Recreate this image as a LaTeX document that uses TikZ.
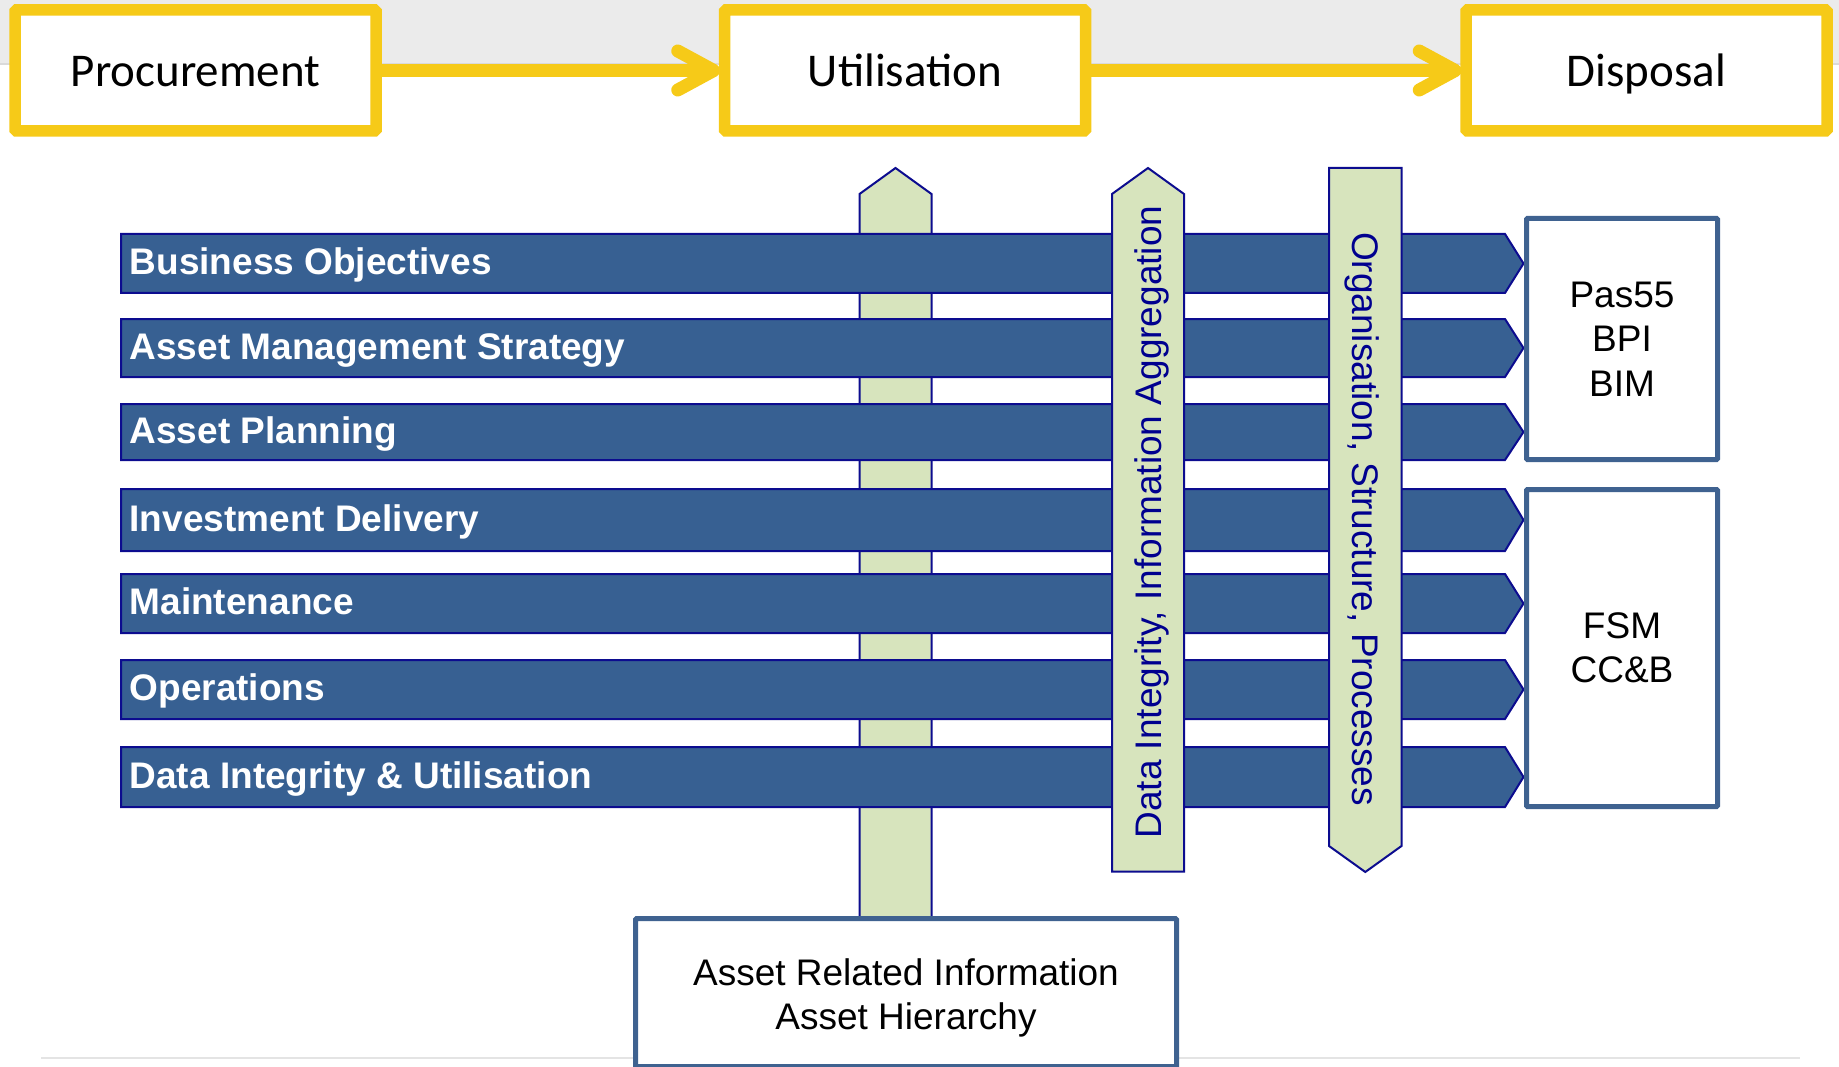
\documentclass[tikz,border=0pt]{standalone}
\usepackage{fontspec}
\setmainfont{Liberation Sans}
\newfontfamily\carlito{Carlito}
\definecolor{barblue}{HTML}{376092}
\definecolor{barline}{HTML}{0C0C8F}
\definecolor{barGreen}{HTML}{D7E4BD}
\definecolor{gtext}{HTML}{00008F}
\definecolor{boxline}{HTML}{3F6290}
\definecolor{ylw}{HTML}{F6CA18}
\definecolor{band}{HTML}{EBEBEB}
\definecolor{bandline}{HTML}{DADADA}
\definecolor{gline}{HTML}{E4E4E4}
\begin{document}
\begin{tikzpicture}[x=1pt,y=-1pt,
  bigfont/.style={font=\fontsize{37}{44.5}\selectfont},
  ybox/.style={draw=ylw, line width=11.5pt, fill=white, minimum width=361pt, minimum height=121pt,
    inner sep=0pt, font=\carlito\fontsize{47}{56}\selectfont, text height=33pt, text depth=0pt,
    rounded corners=1.5pt},
  yline/.style={draw=ylw, line width=12.5pt},
  ychev/.style={draw=ylw, line width=13pt, line cap=round, line join=round},
  bluebar/.style={fill=barblue, draw=barline, line width=2pt},
  greenbar/.style={fill=barGreen, draw=barline, line width=2pt},
  bartext/.style={text=white, font=\bfseries\fontsize{37}{44.5}\selectfont, inner sep=0pt, anchor=base west},
  vtext/.style={text=gtext, font=\fontsize{37}{44.5}\selectfont, inner sep=0pt, anchor=base},
  infobox/.style={draw=boxline, line width=5pt, fill=white, inner sep=0pt, align=center,
    font=\fontsize{37}{44.5}\selectfont, rounded corners=1pt}
]
\useasboundingbox (0,0) rectangle (1839,1067);
% background band and bottom rule
\fill[band] (0,0) rectangle (1839,64);
\draw[bandline, line width=1.2pt] (0,64) -- (1839,64);
\draw[gline, line width=1.5pt] (41,1058) -- (1800,1058);

% green bar behind the blue bars
\path[greenbar] (859.5,194) -- (895.5,168) -- (931.5,194) -- (931.5,930) -- (859.5,930) -- cycle;

% blue bars
\foreach \t/\b/\lab [count=\i] in {
  234/293/Business Objectives,
  319/377/Asset Management Strategy,
  404/460/Asset Planning,
  489/551/Investment Delivery,
  574/633/Maintenance,
  660/719/Operations,
  747/807/Data Integrity \& Utilisation}{
  \path[bluebar] (121,\t) -- (1505,\t) -- (1523.5,{(\t+\b)/2}) -- (1505,\b) -- (121,\b) -- cycle;
  \node[bartext] (bar\i) at (129.5,{(\t+\b)/2+11.3}) {\lab};
}

% green bars on top
\path[greenbar] (1112,194) -- (1148,168) -- (1184,194) -- (1184,871.5) -- (1112,871.5) -- cycle;
\node[vtext, rotate=90] (vdata) at (1161.5,522) {Data Integrity, Information Aggregation};
\path[greenbar] (1329,168) -- (1401.5,168) -- (1401.5,846) -- (1365.3,872) -- (1329,846) -- cycle;
\node[vtext, rotate=-90] (vorg) at (1352,519) {Organisation, Structure, Processes};

% information boxes
\node[infobox, minimum width=191pt, minimum height=241pt] (pas) at (1622,339) {Pas55\\BPI\\BIM};
\node[infobox, minimum width=191pt, minimum height=317pt] (fsm) at (1622,648) {FSM\\CC\&B};
\node[infobox, minimum width=541pt, minimum height=148pt] (ari) at (906,992.7) {};
\node[bigfont, align=center, inner sep=0pt] (aritext) at (906,998) {Asset Related Information\\Asset Hierarchy};

% life-cycle boxes
\node[ybox] (proc) at (195.5,70.5) {Procurement};
\node[ybox] (util) at (905,70.5) {Utilisation};
\node[ybox] (disp) at (1646.5,70.5) {Disposal};
\draw[yline] (proc.east) -- ([xshift=-6pt]util.west);
\draw[ychev] ([shift={(-41pt,19.5pt)}]util.west) -- ([xshift=-5pt]util.west) -- ([shift={(-41pt,-19.5pt)}]util.west);
\draw[yline] (util.east) -- ([xshift=-6pt]disp.west);
\draw[ychev] ([shift={(-41pt,19.5pt)}]disp.west) -- ([xshift=-5pt]disp.west) -- ([shift={(-41pt,-19.5pt)}]disp.west);
\end{tikzpicture}
\end{document}
